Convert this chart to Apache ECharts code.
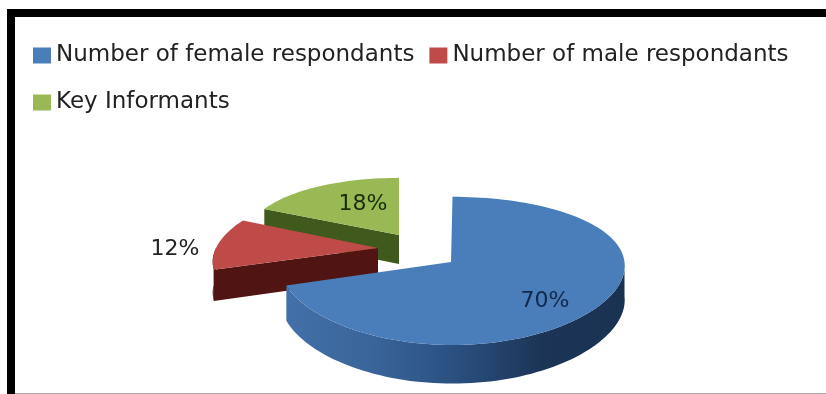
<!DOCTYPE html>
<html><head><meta charset="utf-8">
<style>html,body{margin:0;padding:0;background:#fff}#c{width:826px;height:394px}</style>
<script src="https://cdn.jsdelivr.net/npm/echarts@6/dist/echarts.min.js"></script>
</head><body><div id="c"></div>
<script>
const categories = ['Number of female respondants', 'Number of male respondants', 'Key Informants'];
const percentValues = [70, 12, 18];
const sliceColors = ['#4a7ebb', '#be4b48', '#98b954'];

const geometry = [
  {ax:451, cx:452.5, cy:262, R:172, ry:73, kx:0.05, depth:34, label:[94,39], labelColor:'#14284a',
   edge:'#1f3c60', wall:['#4270a8','#3a659a','#2a5080','#1c3557','#1a3252']},
  {ax:378, cx:378, cy:248, R:162, ry:68, kx:0.2, depth:30, label:[-203,1], labelColor:'#222',
   edge:'#501512', wall:['#501512','#501512']},
  {ax:399, cx:399, cy:235, R:152, ry:64, kx:0.05, depth:29, label:[-36,-31], labelColor:'#1c2c0a',
   edge:'#3f5a1c', wall:['#3f5a1c','#3f5a1c']}
];
const K = 0.12;
const total = percentValues.reduce((a,b)=>a+b,0);
const starts = [];
percentValues.reduce((acc,v,i)=>{starts[i]=acc;return acc+v;},0);

function project(g,deg,down){
  const t=deg*Math.PI/180, s=Math.sin(t), c=Math.cos(t);
  const sy=1/(1+K*c), sx=1/(1+g.kx*c);
  return [g.cx+g.R*s*sx, g.cy-g.ry*c*sy+(down?g.depth*sy:0)];
}
function arcPts(g,a,b,down){
  const pts=[]; const n=Math.max(2,Math.ceil(Math.abs(b-a)/2));
  for(let i=0;i<=n;i++) pts.push(project(g,a+(b-a)*i/n,down));
  return pts;
}
function renderSlice(index){
  return function(params,api){
    const v=api.value(0), g=geometry[index];
    const a=starts[index]/total*360, b=a+v/total*360;
    const apex=[g.ax,g.cy], apexDown=[g.ax,g.cy+g.depth];
    const kids=[];
    const wa=Math.max(a,90), wb=Math.min(b,270);
    if(wb>wa){
      const pts=arcPts(g,wa,wb,false).concat(arcPts(g,wb,wa,true));
      const stops=g.wall.map((c,i)=>({offset:i/(g.wall.length-1),color:c}));
      kids.push({type:'polygon',shape:{points:pts},
        style:{fill:{type:'linear',x:0,y:0,x2:1,y2:0,colorStops:stops}}});
    }
    if(index>0){
      const p=project(g,a,false), q=project(g,a,true);
      kids.push({type:'polygon',shape:{points:[apex,p,q,apexDown]},style:{fill:g.edge}});
    }
    kids.push({type:'polygon',shape:{points:[apex].concat(arcPts(g,a,b,false))},style:{fill:sliceColors[index]}});
    kids.push({type:'text',style:{text:v+'%',x:g.ax+g.label[0],y:g.cy+g.label[1],align:'center',verticalAlign:'middle',
      font:'22px "DejaVu Sans"',fill:g.labelColor}});
    return {type:'group',children:kids};
  };
}
const legendText={fontFamily:'DejaVu Sans',fontSize:23,color:'#222'};
const option={
  animation:false,
  backgroundColor:'#fff',
  legend:[
    {data:categories.slice(0,2),left:33,top:44,icon:'rect',itemWidth:18,itemHeight:16,itemGap:15,textStyle:legendText,selectedMode:false,orient:'horizontal',padding:0},
    {data:categories.slice(2),left:33,top:91,icon:'rect',itemWidth:18,itemHeight:16,textStyle:legendText,selectedMode:false,padding:0}
  ],
  graphic:[
    {type:'rect',shape:{x:7,y:9,width:819,height:8},style:{fill:'#000'},silent:true},
    {type:'rect',shape:{x:7,y:9,width:8,height:385},style:{fill:'#000'},silent:true},
    {type:'rect',shape:{x:15,y:393,width:811,height:1},style:{fill:'#aaa'},silent:true}
  ],
  series:[2,1,0].map(i=>({
    type:'custom',name:categories[i],coordinateSystem:'none',
    itemStyle:{color:sliceColors[i]},
    renderItem:renderSlice(i),data:[[percentValues[i]]],silent:true
  }))
};
echarts.init(document.getElementById('c')).setOption(option);
</script></body></html>
